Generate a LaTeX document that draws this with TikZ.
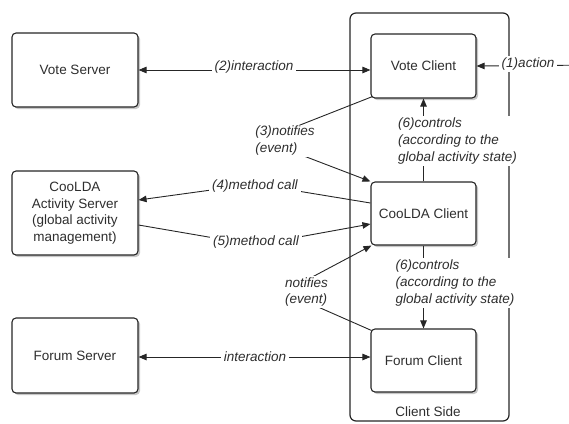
\documentclass[tikz,border=0pt]{standalone}
\usepackage{fontspec}
\setmainfont{Liberation Sans}
\usetikzlibrary{arrows.meta,shadows,calc}
\tikzset{
  box/.style={draw=black!85, line width=1.1pt, rounded corners=4pt, fill=white,
    drop shadow={shadow xshift=2pt, shadow yshift=-2pt, opacity=0.22, fill=black},
    align=center, inner sep=0pt, font=\fontsize{13.5}{16.5}\selectfont, text=black!82},
  container/.style={draw=black!85, line width=1.2pt, rounded corners=6pt, inner sep=0pt},
  lbl/.style={fill=white, inner xsep=3pt, inner ysep=1.5pt, align=left,
    font=\fontsize{13.5}{17}\selectfont\itshape, text=black!82},
  plain/.style={font=\fontsize{13.5}{16.5}\selectfont, text=black!82, inner sep=1pt},
  conn/.style={draw=black!85, line width=0.9pt},
  tip/.style={-{Triangle[length=8pt,width=6.5pt]}},
  both/.style={{Triangle[length=8pt,width=6.5pt]}-{Triangle[length=8pt,width=6.5pt]}},
}
\begin{document}
\begin{tikzpicture}[x=1pt,y=-1pt]
\useasboundingbox (0,0) rectangle (569,423);
% client side container
\node[container, minimum width=159pt, minimum height=408pt] (cs) at (429.5,217) {};
\node[plain] (cslbl) at (428,412) {Client Side};
% boxes
\node[box, minimum width=126pt, minimum height=74pt] (vs) at (75,70) {Vote Server};
\node[box, minimum width=126pt, minimum height=84pt] (as) at (75,213) {CooLDA\\Activity Server\\(global activity\\management)};
\node[box, minimum width=126pt, minimum height=75pt] (fs) at (75,355.5) {Forum Server};
\node[box, minimum width=105pt, minimum height=64pt] (vc) at (423.5,66) {Vote Client};
\node[box, minimum width=105pt, minimum height=63pt] (cc) at (423.5,213.5) {CooLDA Client};
\node[box, minimum width=105pt, minimum height=63pt] (fc) at (423.5,360.5) {Forum Client};
% waypoints and connector ends
\coordinate (src1) at (600,65);
\coordinate (w3) at (262,140);
\coordinate (w4) at (255,184);
\coordinate (w5) at (255,245);
\coordinate (wb) at (284,292);
\coordinate (fse) at ($(fs.east)+(0,1.5)$);
\coordinate (fcw) at (fse -| fc.west);
% connectors
\draw[conn,tip] (src1) -- (vc.east);
\draw[conn,both] (vs.east) -- (vs.east -| vc.west);
\draw[conn,tip] ($(vc.south west)+(2,-2)$) -- (w3) -- (cc.north west);
\draw[conn,tip] ($(cc.west)+(0,-10.5)$) -- (w4) -- ($(as.east)+(0,-13)$);
\draw[conn,tip] ($(as.east)+(0,12)$) -- (w5) -- ($(cc.west)+(0,10.5)$);
\draw[conn,tip] (cc.north) -- (vc.south);
\draw[conn,tip] (cc.south) -- (fc.north);
\draw[conn,tip] ($(fc.north west)+(1,2)$) -- (wb) -- ($(cc.south west)+(1,0)$);
\draw[conn,both] (fse) -- (fcw);
% labels
\node[lbl] (l1) at (528,64) {(1)action};
\node[lbl] (l2) at (254,67) {(2)interaction};
\node[lbl] (l3) at (285,141) {(3)notifies\\(event)};
\node[lbl] (l4) at (255,186) {(4)method call};
\node[lbl] (l5) at (256,242) {(5)method call};
\node[lbl] (l6a) at (457.5,141) {(6)controls\\(according to the\\global activity state)};
\node[lbl] (l6b) at (455,283) {(6)controls\\(according to the\\global activity state)};
\node[lbl] (lb) at (306.5,292) {notifies\\(event)};
\node[lbl] (li) at (255,357) {interaction};
\end{tikzpicture}
\end{document}
